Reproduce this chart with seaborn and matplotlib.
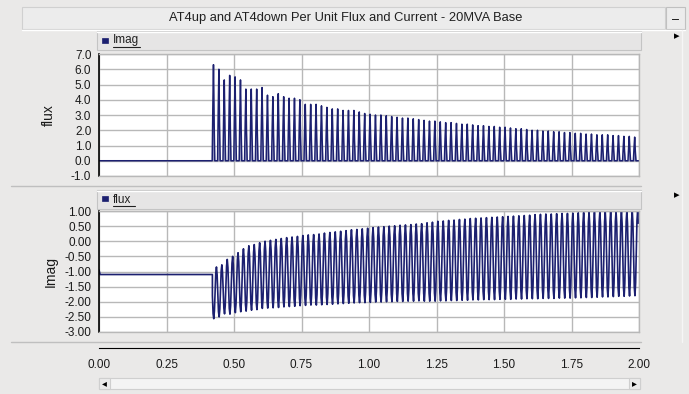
import numpy as np
import pandas as pd
import seaborn as sns
import matplotlib.pyplot as plt
from matplotlib.patches import Rectangle
from matplotlib.lines import Line2D

sns.set_style("white")
plt.rcParams['font.family'] = ['Liberation Sans', 'DejaVu Sans']

W, H = 689, 394
BG = '#eae9e8'
NAVY = '#1c2070'
LAV = '#9ea1c6'
GRID = '#b8b8b8'

title = "AT4up and AT4down Per Unit Flux and Current - 20MVA Base"

# energisation time and cycle period (50 Hz)
t_on = 0.42
period = 0.02

# per-cycle current peaks (top panel, labelled "flux", legend "Imag")
imag_peaks = [6.3, 6.0, 5.3, 5.6, 5.5, 5.3, 4.7, 4.7, 4.7, 4.8,
              4.3, 4.2, 4.4, 4.2, 4.1, 4.1, 4.0, 3.7, 3.7, 3.7,
              3.6, 3.5, 3.4, 3.4, 3.3, 3.3, 3.3, 3.2, 3.1, 3.05,
              3.0, 3.0, 2.95, 2.9, 2.85, 2.8, 2.8, 2.75, 2.7, 2.65,
              2.6, 2.6, 2.55, 2.5, 2.5, 2.45, 2.4, 2.4, 2.35, 2.3,
              2.3, 2.25, 2.25, 2.2, 2.2, 2.15, 2.1, 2.1, 2.05, 2.0,
              2.0, 1.95, 1.95, 1.9, 1.9, 1.85, 1.85, 1.8, 1.8, 1.75,
              1.75, 1.7, 1.7, 1.7, 1.65, 1.65, 1.6, 1.6, 1.55]

# per-cycle flux max / min (bottom panel, labelled "Imag", legend "flux")
flux_max = [-0.85, -0.78, -0.6, -0.5, -0.38, -0.25, -0.15, -0.11, -0.05, 0.0,
            0.03, 0.06, 0.09, 0.12, 0.14, 0.16, 0.19, 0.21, 0.22, 0.24,
            0.27, 0.29, 0.31, 0.33, 0.35, 0.38, 0.39, 0.41, 0.43, 0.45,
            0.47, 0.48, 0.50, 0.51, 0.53, 0.54, 0.55, 0.57, 0.58, 0.61,
            0.63, 0.66, 0.67, 0.69, 0.70, 0.72, 0.73, 0.75, 0.76, 0.77,
            0.78, 0.79, 0.80, 0.81, 0.82, 0.83, 0.84, 0.85, 0.86, 0.88,
            0.89, 0.90, 0.90, 0.91, 0.92, 0.92, 0.93, 0.94, 0.95, 0.95,
            0.96, 0.97, 0.98, 0.98, 0.99, 1.00, 1.00, 1.01, 1.02]
flux_min = [-2.56, -2.5, -2.4, -2.41, -2.36, -2.33, -2.31, -2.28, -2.26, -2.22,
            -2.21, -2.2, -2.19, -2.17, -2.16, -2.15, -2.13, -2.12, -2.11, -2.11,
            -2.10, -2.09, -2.08, -2.07, -2.06, -2.05, -2.04, -2.03, -2.03, -2.02,
            -2.01, -2.01, -2.0, -2.0, -1.99, -1.99, -1.98, -1.98, -1.97, -1.98,
            -1.98, -1.98, -1.97, -1.97, -1.96, -1.96, -1.95, -1.95, -1.94, -1.94,
            -1.93, -1.93, -1.93, -1.92, -1.92, -1.92, -1.91, -1.91, -1.90, -1.90,
            -1.90, -1.89, -1.89, -1.89, -1.88, -1.88, -1.88, -1.87, -1.87, -1.86,
            -1.86, -1.85, -1.84, -1.84, -1.83, -1.82, -1.82, -1.81, -1.80]

# flux before energisation
flux_pre_t = [0.0, 0.004, t_on]
flux_pre_v = [-0.95, -1.1, -1.1]

# shapes of one cycle (fraction of period, fraction of swing)
pulse_dt = [-0.24, -0.12, 0.0, 0.12, 0.24]
pulse_f = [0.0, 0.55, 1.0, 0.4, 0.0]
wave_dt = [0.0, 0.125, 0.25, 0.375, 0.5, 0.625, 0.75, 0.875]
wave_f = [0.45, 0.1, 0.0, 0.15, 0.5, 0.88, 1.0, 0.85]

# build the traces
it, iv = [0.0, t_on - 0.002], [0.0, 0.0]
for k, p in enumerate(imag_peaks):
    c = t_on + (k + 0.2) * period
    for d, f in zip(pulse_dt, pulse_f):
        it.append(c + d * period)
        iv.append(f * p)
it.append(2.0)
iv.append(0.0)
imag_df = pd.DataFrame({"t": it, "v": iv})

ft, fv = list(flux_pre_t), list(flux_pre_v)
for k, (mx, mn) in enumerate(zip(flux_max, flux_min)):
    c = t_on + k * period
    for d, f in zip(wave_dt, wave_f):
        ft.append(c + d * period)
        fv.append(mn + f * (mx - mn))
flux_df = pd.DataFrame({"t": ft, "v": fv})


def fx(x):
    return x / W


def fy(y):
    return 1 - y / H


def box(x0, y0, x1, y1):
    return [fx(x0), fy(y1), (x1 - x0) / W, (y1 - y0) / H]


fig = plt.figure(figsize=(W / 100, H / 100), dpi=100, facecolor=BG)


def rect(x0, y0, x1, y1, fc, ec, lw=0.8):
    fig.add_artist(Rectangle((fx(x0), fy(y1)), (x1 - x0) / W, (y1 - y0) / H,
                             transform=fig.transFigure, facecolor=fc,
                             edgecolor=ec, linewidth=lw))


def hline(y, x0, x1, c='#bfbfbf', lw=1.0):
    fig.add_artist(Line2D([fx(x0), fx(x1)], [fy(y), fy(y)],
                          transform=fig.transFigure, color=c, linewidth=lw))


def vline(x, y0, y1, c='#bfbfbf', lw=1.0):
    fig.add_artist(Line2D([fx(x), fx(x)], [fy(y0), fy(y1)],
                          transform=fig.transFigure, color=c, linewidth=lw))


# title bar
rect(22, 7, 665, 29, '#ececec', '#d0d0d0')
hline(29.5, 22, 685, c='white')
fig.text(fx(346), fy(18), title, ha='center', va='center', fontsize=9.3, color='#202020')
rect(666, 7, 685, 29, '#ececec', '#c0c0c0')
fig.text(fx(675.5), fy(20), "\u2013", ha='center', va='center', fontsize=9, color='black')

# legend strips
for y0, y1, name, ul in [(31, 50, "Imag", 27), (190, 209, "flux", 22)]:
    rect(97, y0, 641, y1, '#e6e5e5', '#c4c4c4')
    hline(y0 + 0.5, 97, 641, c='white')
    rect(102, (y0 + y1) / 2 - 3, 108, (y0 + y1) / 2 + 2, NAVY, NAVY, lw=0.5)
    fig.text(fx(113), fy((y0 + y1) / 2), name, ha='left', va='center', fontsize=8.5, color='#202020')
    hline((y0 + y1) / 2 + 6, 113, 113 + ul, c='#202020', lw=0.8)
    fig.text(fx(677), fy(y0 + 5), "\u25b8", ha='center', va='center', fontsize=8, color='black')

# panel separators
hline(186, 11, 641)
hline(342, 11, 641)
vline(682, 30, 342, c='#f6f6f6')


def style_axes(ax, ylim, yticks, fmt):
    ax.set_facecolor('white')
    ax.set_xlim(0, 2)
    ax.set_ylim(*ylim)
    ax.set_xticks(np.arange(0, 2.01, 0.25))
    ax.set_yticks(yticks)
    ax.set_yticklabels([fmt % v for v in yticks])
    ax.set_xticklabels([])
    ax.grid(True, color=GRID, linewidth=1.0)
    ax.set_axisbelow(True)
    ax.tick_params(axis='x', length=0)
    ax.tick_params(axis='y', length=4, width=1, color='black', labelsize=8.5,
                   pad=1.5, labelcolor='#1a1a1a', direction='out')
    for s in ['top', 'right', 'bottom']:
        ax.spines[s].set_color(GRID)
        ax.spines[s].set_linewidth(1.0)
    ax.spines['left'].set_color('black')
    ax.spines['left'].set_linewidth(1.2)
    ax.set_xlabel(None)


ax1 = fig.add_axes(box(99, 54, 639, 176))
ax1.fill_between(imag_df["t"], 0, imag_df["v"], color=LAV, linewidth=0)
sns.lineplot(data=imag_df, x="t", y="v", ax=ax1, color=NAVY, linewidth=1.1,
             estimator=None, sort=False)
style_axes(ax1, (-1, 7), np.arange(-1, 7.01, 1.0), '%.1f')
ax1.set_ylabel("flux", fontsize=10, color='#1a1a1a', labelpad=11)

ax2 = fig.add_axes(box(99, 211, 639, 332))
sns.lineplot(data=flux_df, x="t", y="v", ax=ax2, color=NAVY, linewidth=1.2,
             estimator=None, sort=False)
style_axes(ax2, (-3, 1), np.arange(-3, 1.01, 0.5), '%.2f')
ax2.set_ylabel("Imag", fontsize=10, color='#1a1a1a', labelpad=5)

# shared time axis
ax3 = fig.add_axes(box(99, 348, 639, 348.01))
ax3.set_facecolor('none')
ax3.set_xlim(0, 2)
ax3.set_xticks(np.arange(0, 2.01, 0.25))
ax3.set_xticklabels(['%.2f' % v for v in np.arange(0, 2.01, 0.25)])
ax3.set_yticks([])
for s in ['top', 'right', 'left']:
    ax3.spines[s].set_visible(False)
ax3.spines['bottom'].set_color('black')
ax3.tick_params(axis='x', length=4, width=1, color='black', labelsize=8.5,
                pad=4, labelcolor='#1a1a1a', direction='out')

# scrollbar
rect(99, 378, 640, 389, '#f4f4f4', '#cfcfcf')
rect(99, 378, 110, 389, '#ebebeb', '#cfcfcf')
rect(629, 378, 640, 389, '#ebebeb', '#cfcfcf')
fig.text(fx(104.5), fy(383.5), "\u25c2", ha='center', va='center', fontsize=7, color='black')
fig.text(fx(634.5), fy(383.5), "\u25b8", ha='center', va='center', fontsize=7, color='black')

fig.savefig("out.png", dpi=100, facecolor=BG)
